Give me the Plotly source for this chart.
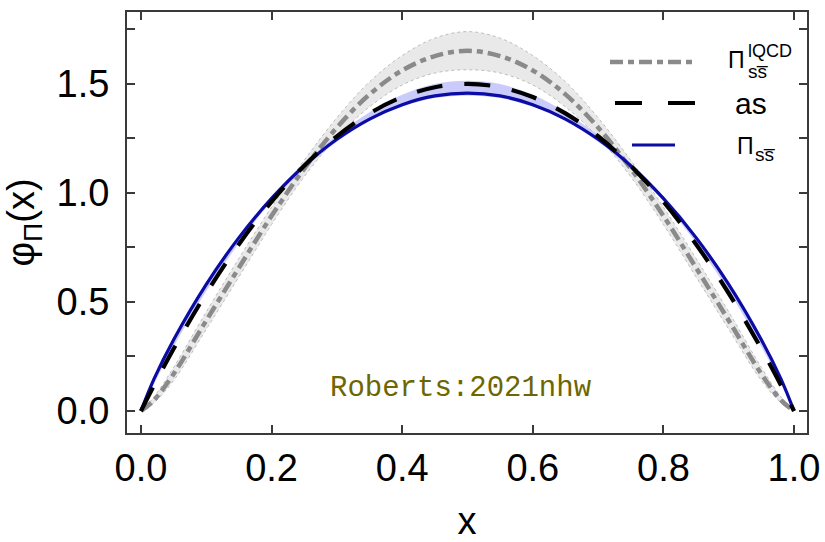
import plotly.graph_objects as go

# ---- data ----
x_vals = [0, 0.02, 0.05, 0.1, 0.15, 0.2, 0.25, 0.3, 0.35, 0.4, 0.45, 0.5,
          0.55, 0.6, 0.65, 0.7, 0.75, 0.8, 0.85, 0.9, 0.95, 0.98, 1.0]

half_as = [0, 0.118, 0.285, 0.54, 0.765, 0.96, 1.125, 1.26, 1.365, 1.44, 1.485, 1.5]
half_pi = [0, 0.147, 0.327, 0.581, 0.795, 0.975, 1.125, 1.246, 1.339, 1.405, 1.445, 1.458]
half_pi_lo = [0, 0.125, 0.295, 0.55, 0.77, 0.962, 1.11, 1.235, 1.33, 1.395, 1.435, 1.446]
half_pi_hi = [0, 0.148, 0.33, 0.585, 0.80, 0.98, 1.135, 1.265, 1.37, 1.45, 1.5, 1.515]
half_lq = [0, 0.05, 0.17, 0.415, 0.657, 0.895, 1.112, 1.3, 1.452, 1.562, 1.628, 1.652]
half_lq_lo = [0, 0.038, 0.14, 0.375, 0.615, 0.855, 1.075, 1.255, 1.395, 1.495, 1.55, 1.565]
half_lq_hi = [0, 0.065, 0.2, 0.455, 0.70, 0.935, 1.15, 1.345, 1.51, 1.63, 1.71, 1.74]


def mirror(h):
    return h + h[-2::-1]


as_vals = mirror(half_as)
pi_vals = mirror(half_pi)
pi_lo = mirror(half_pi_lo)
pi_hi = mirror(half_pi_hi)
lq_vals = mirror(half_lq)
lq_lo = mirror(half_lq_lo)
lq_hi = mirror(half_lq_hi)

x_ticks = [0.0, 0.2, 0.4, 0.6, 0.8, 1.0]
y_ticks = [0.0, 0.5, 1.0, 1.5]

W, H = 825, 542
ML, MR, MT, MB = 127, 18, 12, 109


def px(xp):
    return (xp - ML) / (W - ML - MR)


def py(yp):
    return (H - MB - yp) / (H - MT - MB)


fig = go.Figure()

# lQCD band
fig.add_trace(go.Scatter(x=x_vals, y=lq_lo, mode="lines", line=dict(color="#bdbdbd", width=1, dash="dot", shape="spline"),
                         hoverinfo="skip"))
fig.add_trace(go.Scatter(x=x_vals, y=lq_hi, mode="lines", fill="tonexty", fillcolor="rgba(225,225,225,0.75)",
                         line=dict(color="#bdbdbd", width=1, dash="dot", shape="spline"), hoverinfo="skip"))
# blue band
fig.add_trace(go.Scatter(x=x_vals, y=pi_lo, mode="lines", line=dict(width=0, shape="spline"), hoverinfo="skip"))
fig.add_trace(go.Scatter(x=x_vals, y=pi_hi, mode="lines", fill="tonexty", fillcolor="rgba(190,190,250,0.8)",
                         line=dict(width=0, shape="spline"), hoverinfo="skip"))
# lines
fig.add_trace(go.Scatter(x=x_vals, y=lq_vals, mode="lines",
                         line=dict(color="#8a8a8a", width=4.5, dash="13px,5px,6px,5px", shape="spline")))
fig.add_trace(go.Scatter(x=x_vals, y=pi_vals, mode="lines",
                         line=dict(color="#0b0ba6", width=3.2, shape="spline")))
fig.add_trace(go.Scatter(x=x_vals, y=as_vals, mode="lines",
                         line=dict(color="black", width=4.2, dash="26px,22px", shape="spline")))

axis_common = dict(showgrid=False, zeroline=False, showline=True, linewidth=2, linecolor="#3a3a3a",
                   mirror="ticks", ticks="inside", ticklen=8, tickwidth=1.5, tickcolor="#3a3a3a",
                   automargin=False,
                   tickfont=dict(family="Liberation Sans", size=38, color="black"))

fig.update_xaxes(range=[-0.0214, 1.0199], tickvals=x_ticks, ticktext=[f"{v:.1f}" for v in x_ticks],
                 ticklabelstandoff=0,
                 title=dict(text="x", font=dict(family="Liberation Sans", size=38, color="black"), standoff=26),
                 **axis_common)
fig.update_yaxes(range=[-0.101, 1.830], tickvals=y_ticks, ticktext=[f"{v:.1f}" for v in y_ticks],
                 ticklabelstandoff=8,
                 minor=dict(dtick=0.25, tick0=0, ticks="inside", ticklen=8, tickcolor="#3a3a3a", tickwidth=1.5),
                 title=dict(text="φ<sub>Π</sub>(x)", font=dict(family="Liberation Sans", size=38, color="black"),
                            standoff=10),
                 **axis_common)

shapes = [
    dict(type="line", xref="paper", yref="paper", x0=px(610), x1=px(697), y0=py(62), y1=py(62),
         line=dict(color="#8a8a8a", width=4.5, dash="13px,5px,6px,5px")),
    dict(type="line", xref="paper", yref="paper", x0=px(615), x1=px(695), y0=py(103), y1=py(103),
         line=dict(color="black", width=4.2, dash="27px,26px")),
    dict(type="line", xref="paper", yref="paper", x0=px(632), x1=px(675), y0=py(145), y1=py(145),
         line=dict(color="#0b0ba6", width=3.2)),
]

lf = "Liberation Sans"
annotations = [
    dict(text="Π", x=px(726), y=py(60), xref="paper", yref="paper", xanchor="left", yanchor="middle",
         showarrow=False, font=dict(family=lf, size=23, color="black")),
    dict(text="lQCD", x=px(746), y=py(51), xref="paper", yref="paper", xanchor="left", yanchor="middle",
         showarrow=False, font=dict(family=lf, size=18, color="black")),
    dict(text="ss̅", x=px(746), y=py(71), xref="paper", yref="paper", xanchor="left", yanchor="middle",
         showarrow=False, font=dict(family=lf, size=19, color="black")),
    dict(text="as", x=px(733), y=py(104), xref="paper", yref="paper", xanchor="left", yanchor="middle",
         showarrow=False, font=dict(family=lf, size=30, color="black")),
    dict(text="Π", x=px(735), y=py(146), xref="paper", yref="paper", xanchor="left", yanchor="middle",
         showarrow=False, font=dict(family=lf, size=23, color="black")),
    dict(text="ss̅", x=px(753), y=py(154), xref="paper", yref="paper", xanchor="left", yanchor="middle",
         showarrow=False, font=dict(family=lf, size=19, color="black")),
    dict(text="Roberts:2021nhw", x=0.49, y=0.105, xref="x", yref="y", xanchor="center", yanchor="middle",
         showarrow=False, font=dict(family="Liberation Mono", size=29, color="#6e6600")),
]

fig.update_layout(width=W, height=H, margin=dict(l=ML, r=MR, t=MT, b=MB),
                  plot_bgcolor="white", paper_bgcolor="white", showlegend=False,
                  shapes=shapes, annotations=annotations)

fig.write_html("out.html")
